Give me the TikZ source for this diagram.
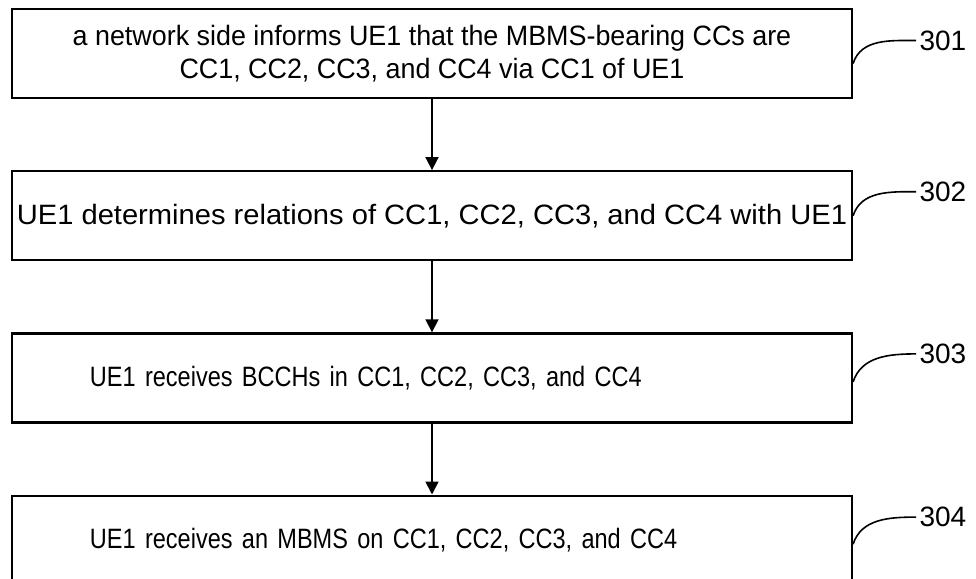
\documentclass[tikz,border=0pt]{standalone}
\usepackage{fontspec}
\setmainfont{Liberation Sans}
\newfontfamily\stepfont[FakeStretch=0.96]{Liberation Sans}
\newfontfamily\widefont[FakeStretch=1.04]{Liberation Sans}
\newfontfamily\narrowfont[FakeStretch=0.84,WordSpace=0.8]{Liberation Sans}
\usepackage{tikz}
\usetikzlibrary{arrows.meta,positioning}

\begin{document}
\begin{tikzpicture}[>={Triangle[width=6.5pt,length=6.5pt]},
        node distance = 35.5pt,
        stepbox/.style = {shape=rectangle, draw, line width=1.1pt,
        minimum width=420pt, minimum height=44.5pt, inner sep=1pt, align=center,
        font=\stepfont\fontsize{14}{16.5}\selectfont},
        shortbox/.style = {stepbox, align=left, inner xsep=39pt, text width=342pt,
        font=\narrowfont\fontsize{14}{16.5}\selectfont},
        reflabel/.style = {anchor=west, inner sep=0pt, font=\fontsize{14}{16.5}\selectfont},
        leader/.style = {line width=0.8pt, out=72, in=180}]
      \useasboundingbox (0,0) rectangle (488pt,-289.5pt);
      \node [stepbox] (s301) at (216pt,-26.75pt) {a network side informs UE1 that the MBMS-bearing CCs are\\CC1, CC2, CC3, and CC4 via CC1 of UE1};
      \node [stepbox, font=\widefont\fontsize{14}{16.5}\selectfont, below=of s301] (s302) {UE1 determines relations of CC1, CC2, CC3, and CC4 with UE1};
      \node [shortbox, below=of s302] (s303) {UE1 receives BCCHs in CC1, CC2, CC3, and CC4};
      \node [shortbox, below=of s303] (s304) {UE1 receives an MBMS on CC1, CC2, CC3, and CC4};
      \draw [->, line width=0.9pt] (s301) -- (s302);
      \draw [->, line width=0.9pt] (s302) -- (s303);
      \draw [->, line width=0.9pt] (s303) -- (s304);
      \node [reflabel] (l301) at ([xshift=33pt, yshift=6.5pt]s301.east) {301};
      \node [reflabel] (l302) at ([xshift=33pt, yshift=12pt]s302.east) {302};
      \node [reflabel] (l303) at ([xshift=33pt, yshift=12pt]s303.east) {303};
      \node [reflabel] (l304) at ([xshift=33pt, yshift=11.5pt]s304.east) {304};
      \draw [leader] ([yshift=-5pt]s301.east) to ([xshift=-1.5pt]l301.west);
      \draw [leader] (s302.east) to ([xshift=-1.5pt]l302.west);
      \draw [leader] ([yshift=-2pt]s303.east) to ([xshift=-1.5pt]l303.west);
      \draw [leader] ([yshift=-2pt]s304.east) to ([xshift=-1.5pt]l304.west);
    \end{tikzpicture}
\end{document}
